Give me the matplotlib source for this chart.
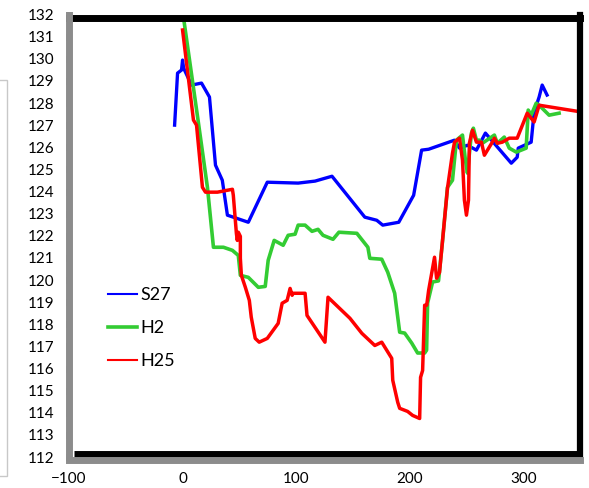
import numpy as np
import matplotlib
matplotlib.use("Agg")
import matplotlib.pyplot as plt
from matplotlib.lines import Line2D
from matplotlib.patches import Rectangle
from matplotlib.transforms import ScaledTranslation

plt.rcParams['font.family'] = ['Lato', 'DejaVu Sans']

# S27
s27_x = [-7, -4.4, -0.9, 0, 0.9, 7.9, 16.7, 23.7, 29, 35, 39.5, 57.9, 74.6, 101.8, 116.7,
         131.6, 160.5, 171, 176.3, 190.4, 203.5, 210.5, 216.7, 239.5, 243.9, 250.9, 258.8,
         266.7, 289.5, 294.7, 295.6, 307, 309.6, 314, 316.7, 321]
s27_y = [127.0, 129.35, 129.49, 129.94, 129.58, 128.81, 128.9, 128.27, 125.19, 124.51, 122.93,
         122.61, 124.42, 124.38, 124.47, 124.69, 122.84, 122.7, 122.48, 122.61, 123.83, 125.87,
         125.91, 126.32, 125.96, 126.09, 125.87, 126.64, 125.28, 125.55, 125.96, 126.23, 127.59,
         128.27, 128.81, 128.36]

# H2
h2_x = [0.9, 14, 21.9, 27.2, 36, 43.9, 49.1, 50.9, 57.9, 66.7, 72.8, 75.4, 80.7, 88.6, 93,
        99.1, 101.8, 107.9, 114, 119.3, 123.7, 132.5, 137.7, 153.5, 163.2, 164.9, 175.4, 180.7,
        186.8, 191.2, 195.6, 201.8, 207, 213.2, 214.9, 215.8, 220.2, 225.4, 229, 233.3, 237.7,
        241.2, 246.5, 249.1, 250.9, 254.4, 256.1, 258.8, 261.4, 264, 274.6, 277.2, 283.3, 287.7,
        293.9, 302.6, 304.4, 307, 311.4, 314, 322.8, 331.6]
h2_y = [131.84, 127.09, 124.19, 121.48, 121.48, 121.34, 121.11, 120.21, 120.12, 119.67, 119.71,
        120.89, 121.79, 121.57, 122.02, 122.07, 122.48, 122.48, 122.2, 122.29, 122.02, 121.84,
        122.16, 122.11, 121.48, 120.98, 120.94, 120.35, 119.4, 117.64, 117.6, 117.15, 116.7,
        116.7, 116.83, 118.96, 119.91, 119.96, 121.79, 124.19, 124.51, 126.32, 126.55, 125.42,
        124.83, 126.64, 126.86, 126.32, 126.32, 126.18, 126.55, 126.18, 126.46, 125.96, 125.78,
        125.96, 127.68, 127.45, 127.99, 127.9, 127.45, 127.54]

# H25
h25_x = [0, 9.6, 12.3, 17.5, 20.2, 30.7, 43.9, 44.7, 47.4, 48.2, 49.1, 50.9, 50.9, 51.8, 55.3,
         58.8, 60.5, 64, 67.5, 74.6, 84.2, 87.7, 92.1, 94.7, 96.5, 97.4, 107.9, 109.6, 125.4,
         128.1, 147.4, 157.9, 169.3, 175.4, 184.2, 185.1, 189.5, 191.2, 198.2, 202.6, 208.8,
         209.6, 211.4, 213.2, 215, 216.7, 221.9, 223.7, 226.3, 233.3, 237.7, 239.5, 243.9, 246.5,
         248.2, 250, 251.8, 252.6, 255.3, 258.8, 263.2, 265.8, 272.8, 274.6, 277.2, 281.6, 287.7,
         294.7, 303.5, 309.6, 314, 351.8]
h25_y = [131.3, 127.23, 127.0, 124.19, 123.97, 123.97, 124.1, 123.83, 122.11, 121.79, 122.16,
         121.97, 120.98, 120.21, 119.67, 119.08, 118.32, 117.36, 117.19, 117.36, 118.04, 118.95,
         119.08, 119.62, 119.31, 119.4, 119.4, 118.4, 117.19, 119.22, 118.27, 117.59, 117.04,
         117.19, 116.46, 115.47, 114.47, 114.2, 114.06, 113.88, 113.74, 115.6, 115.91, 118.86,
         118.86, 119.53, 121.03, 120.08, 120.35, 124.15, 125.73, 126.23, 126.41, 125.42, 123.61,
         122.93, 123.61, 126.19, 126.77, 126.23, 126.23, 125.64, 126.23, 126.41, 126.18, 126.23,
         126.41, 126.41, 127.54, 127.14, 127.9, 127.59]

labels = ["S27", "H2", "H25"]
colors = ["#0000ff", "#33cc33", "#ff0000"]

fig = plt.figure(figsize=(5.89, 4.88), dpi=100)
ax = fig.add_axes([69 / 589, 31 / 488, 511 / 589, 442.5 / 488])

ax.plot(s27_x, s27_y, color=colors[0], lw=2.4)
ax.plot(h2_x, h2_y, color=colors[1], lw=2.6)
ax.plot(h25_x, h25_y, color=colors[2], lw=2.5)

ax.set_xlim(-100, 350)
ax.set_ylim(112, 132)
ax.set_xticks([-100, 0, 100, 200, 300])
ax.set_yticks(np.arange(112, 133, 1))

gray = "#8c8c8c"
ax.spines['left'].set_color(gray)
ax.spines['left'].set_linewidth(5)
ax.spines['left'].set_zorder(3)
ax.spines['bottom'].set_color(gray)
ax.spines['bottom'].set_linewidth(5)
ax.spines['bottom'].set_position(('outward', 2.5))
ax.spines['top'].set_color("black")
ax.spines['top'].set_linewidth(5)
ax.spines['top'].set_position(('outward', -2.2))
ax.spines['right'].set_color("black")
ax.spines['right'].set_linewidth(4.5)

# black frame line along the bottom of the plot area
off = ScaledTranslation(0, 3.5 / 100, fig.dpi_scale_trans)
ax.plot([0.01, 1], [0, 0], transform=ax.transAxes + off, color="black", lw=5,
        solid_capstyle='butt', clip_on=False, zorder=2)

ax.tick_params(axis='y', direction='out', length=2.5, width=5, color=gray,
               labelsize=11, pad=8)
ax.tick_params(axis='x', length=0, labelsize=11, pad=8)

handles = [Line2D([], [], color=colors[0], lw=1.5),
           Line2D([], [], color=colors[1], lw=2.6),
           Line2D([], [], color=colors[2], lw=1.5)]
ax.legend(handles, labels, loc='upper left', bbox_to_anchor=(108 / 589, 1 - 287 / 488),
          bbox_transform=fig.transFigure, frameon=False, fontsize=13, borderpad=0,
          borderaxespad=0, handlelength=1.6, handletextpad=0.2, labelspacing=0.95)

fig.patches.append(Rectangle((-6 / 589, 1 - 476 / 488), 13 / 589, 396 / 488,
                             transform=fig.transFigure, fill=False,
                             edgecolor="#c8c8c8", lw=1))

fig.savefig("out.png", dpi=100)
